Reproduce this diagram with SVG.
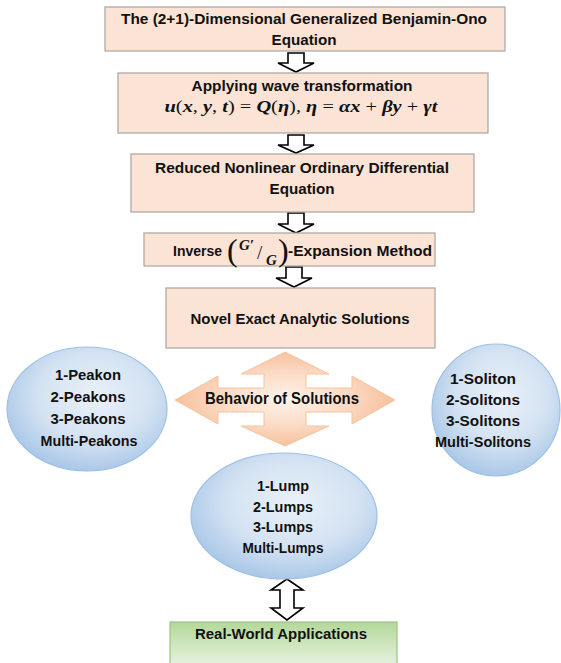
<svg xmlns="http://www.w3.org/2000/svg" width="561" height="663" viewBox="0 0 561 663">
<defs>
<style>
.box{fill:#fbe3d5;stroke:#a9a3a0;stroke-width:1.2}
.t{font-family:"Liberation Sans",Arial,sans-serif;font-weight:bold;font-size:15px;fill:#111;text-anchor:middle}
.m{font-family:"Liberation Serif","Times New Roman",serif;font-size:17px;fill:#111}
.bi{font-weight:bold;font-style:italic}
.hollow{fill:#fff;stroke:#000;stroke-width:1.6;stroke-linejoin:miter}
.ell{stroke:#9dc0e4;stroke-width:1.2}
</style>
<radialGradient id="gBlue" cx="55%" cy="40%" r="65%">
<stop offset="0" stop-color="#eaf1f9"/>
<stop offset="0.55" stop-color="#d3e2f2"/>
<stop offset="1" stop-color="#a3c3e6"/>
</radialGradient>
<radialGradient id="gPeach" cx="50%" cy="50%" r="60%">
<stop offset="0" stop-color="#fff4ec"/>
<stop offset="0.5" stop-color="#fbd9c2"/>
<stop offset="1" stop-color="#f4b48a"/>
</radialGradient>
<linearGradient id="gGreen" x1="0" y1="0" x2="0" y2="1">
<stop offset="0" stop-color="#b3d898"/>
<stop offset="1" stop-color="#e8f2e0"/>
</linearGradient>
</defs>
<rect width="561" height="663" fill="#fff"/>

<g id="connectors">
<polygon class="hollow" points="288,53 304,53 304,63 314,63 296,72 278,63 288,63"/>
<polygon class="hollow" points="288,135 304,135 304,145 314,145 296,153 278,145 288,145"/>
<polygon class="hollow" points="288,213 304,213 304,224 314,224 296,233 278,224 288,224"/>
<polygon class="hollow" points="286,267 302,267 302,278 312,278 294,287 276,278 286,278"/>
<polygon class="hollow" points="287,579 303,590 294,590 294,608 303,608 287,620 271,608 280,608 280,590 271,590"/>
</g>

<g id="n1">
<rect class="box" x="105" y="7" width="400" height="44"/>
<text class="t" x="304" y="24" textLength="366" lengthAdjust="spacingAndGlyphs">The (2+1)-Dimensional Generalized Benjamin-Ono</text>
<text class="t" x="304" y="45" textLength="65" lengthAdjust="spacingAndGlyphs">Equation</text>
</g>

<g id="n2">
<rect class="box" x="118" y="73" width="370" height="60"/>
<text class="t" x="302" y="91" textLength="221" lengthAdjust="spacingAndGlyphs">Applying wave transformation</text>
<text class="m" x="301" y="112" text-anchor="middle" textLength="273" lengthAdjust="spacingAndGlyphs"><tspan class="bi">u</tspan>(<tspan class="bi">x</tspan>, <tspan class="bi">y</tspan>, <tspan class="bi">t</tspan>) = <tspan class="bi">Q</tspan>(<tspan class="bi">η</tspan>), <tspan class="bi">η</tspan> = <tspan class="bi">αx</tspan> + <tspan class="bi">βy</tspan> + <tspan class="bi">γt</tspan></text>
</g>

<g id="n3">
<rect class="box" x="131" y="154" width="343" height="58"/>
<text class="t" x="302" y="173" textLength="294" lengthAdjust="spacingAndGlyphs">Reduced Nonlinear Ordinary Differential</text>
<text class="t" x="302" y="194" textLength="65" lengthAdjust="spacingAndGlyphs">Equation</text>
</g>

<g id="n4">
<rect class="box" x="144" y="233" width="291" height="33"/>
<text class="t" x="173" y="256" style="text-anchor:start" textLength="49" lengthAdjust="spacingAndGlyphs">Inverse</text>
<text class="m" x="227" y="261" style="font-size:32px">(</text>
<text class="m bi" x="239" y="250" style="font-size:15px">G′</text>
<text class="m" x="257" y="259" style="font-size:19px">/</text>
<text class="m bi" x="266" y="265" style="font-size:15px">G</text>
<text class="m" x="278" y="261" style="font-size:32px">)</text>
<text class="t" x="288" y="256" style="text-anchor:start" textLength="144" lengthAdjust="spacingAndGlyphs">-Expansion  Method</text>
</g>

<g id="n5">
<rect class="box" x="166" y="288" width="269" height="60"/>
<text class="t" x="300" y="324" textLength="219" lengthAdjust="spacingAndGlyphs">Novel Exact Analytic Solutions</text>
</g>

<g id="behavior">
<polygon fill="url(#gPeach)" stroke="#f6c3a0" stroke-width="1" points="285,352 329,374 306,374 306,388 352,388 352,376 395,400 352,424 352,412 306,412 306,426 329,426 285,446 241,426 264,426 264,412 218,412 218,424 175,400 218,376 218,388 264,388 264,374 241,374"/>
<text class="t" x="282" y="404" textLength="154" lengthAdjust="spacingAndGlyphs" style="font-size:16px">Behavior of Solutions</text>
</g>

<g id="peakons">
<ellipse class="ell" fill="url(#gBlue)" cx="87" cy="409" rx="80" ry="62"/>
<text class="t" x="88" y="380" textLength="66" lengthAdjust="spacingAndGlyphs">1-Peakon</text>
<text class="t" x="88" y="402" textLength="75" lengthAdjust="spacingAndGlyphs">2-Peakons</text>
<text class="t" x="88" y="424" textLength="75" lengthAdjust="spacingAndGlyphs">3-Peakons</text>
<text class="t" x="89" y="446" textLength="97" lengthAdjust="spacingAndGlyphs">Multi-Peakons</text>
</g>

<g id="solitons">
<ellipse class="ell" fill="url(#gBlue)" cx="496" cy="410" rx="64" ry="66"/>
<text class="t" x="483" y="384" textLength="66" lengthAdjust="spacingAndGlyphs">1-Soliton</text>
<text class="t" x="483" y="405" textLength="74" lengthAdjust="spacingAndGlyphs">2-Solitons</text>
<text class="t" x="483" y="426" textLength="74" lengthAdjust="spacingAndGlyphs">3-Solitons</text>
<text class="t" x="483" y="447" textLength="96" lengthAdjust="spacingAndGlyphs">Multi-Solitons</text>
</g>

<g id="lumps">
<ellipse class="ell" fill="url(#gBlue)" cx="284" cy="516" rx="93" ry="63"/>
<text class="t" x="283" y="491" textLength="52" lengthAdjust="spacingAndGlyphs">1-Lump</text>
<text class="t" x="283" y="512" textLength="60" lengthAdjust="spacingAndGlyphs">2-Lumps</text>
<text class="t" x="283" y="532" textLength="60" lengthAdjust="spacingAndGlyphs">3-Lumps</text>
<text class="t" x="283" y="553" textLength="81" lengthAdjust="spacingAndGlyphs">Multi-Lumps</text>
</g>

<g id="applications">
<rect fill="url(#gGreen)" stroke="#9cc482" stroke-width="1.2" x="170" y="622" width="227" height="44"/>
<text class="t" x="281" y="639" textLength="172" lengthAdjust="spacingAndGlyphs">Real-World Applications</text>
</g>
</svg>
